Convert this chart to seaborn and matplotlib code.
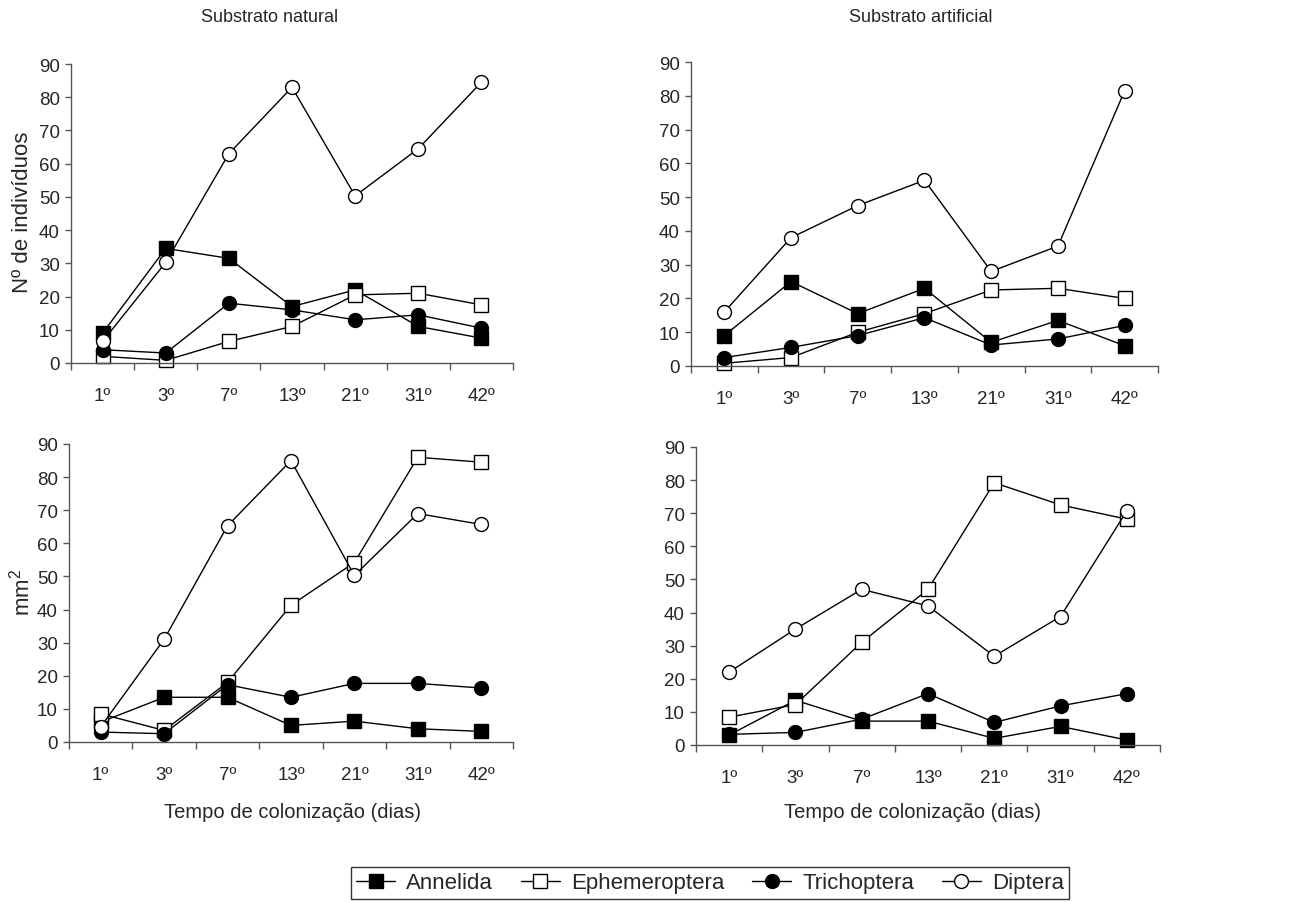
import numpy as np
import pandas as pd
import matplotlib
matplotlib.use("Agg")
import matplotlib.pyplot as plt
import seaborn as sns
from matplotlib.ticker import FixedLocator, NullFormatter

sns.set_style("white")
plt.rcParams['font.family'] = ['Liberation Sans', 'DejaVu Sans']
plt.rcParams['mathtext.fontset'] = 'custom'
plt.rcParams['mathtext.rm'] = 'Liberation Sans'

# dados
dias = ["1º", "3º", "7º", "13º", "21º", "31º", "42º"]
grupos = ["Annelida", "Ephemeroptera", "Trichoptera", "Diptera"]

# Nº de indivíduos - substrato natural
nat_ind_annelida = [9, 34.5, 31.5, 17, 22, 11, 7.5]
nat_ind_ephem = [2, 0.8, 6.5, 11, 20.5, 21, 17.5]
nat_ind_trich = [4, 3, 18, 16, 13, 14.5, 10.5]
nat_ind_diptera = [6.5, 30.3, 63, 83, 50.3, 64.5, 84.5]

# Nº de indivíduos - substrato artificial
art_ind_annelida = [9, 25, 15.5, 23, 7, 13.5, 6]
art_ind_ephem = [0.8, 2.5, 10, 15.5, 22.5, 23, 20]
art_ind_trich = [2.5, 5.5, 9, 14.3, 6.2, 8, 12]
art_ind_diptera = [16, 38, 47.5, 55, 28, 35.5, 81.5]

# mm2 - substrato natural
nat_mm_annelida = [6, 13.5, 13.5, 5, 6.3, 4, 3.2]
nat_mm_ephem = [8.5, 3.5, 18, 41.3, 54.2, 86, 84.5]
nat_mm_trich = [3, 2.5, 17.3, 13.5, 17.7, 17.7, 16.3]
nat_mm_diptera = [4.6, 31, 65.3, 85, 50.3, 69, 65.7]

# mm2 - substrato artificial
art_mm_annelida = [3, 13.5, 7.2, 7.2, 2, 5.6, 1.5]
art_mm_ephem = [8.4, 12.2, 31, 47, 79.2, 72.5, 68.2]
art_mm_trich = [3.2, 3.8, 7.8, 15.5, 6.8, 11.8, 15.5]
art_mm_diptera = [22, 35, 47, 42, 26.8, 38.8, 70.7]

estilos = {
    "Annelida": dict(marker="s", markerfacecolor="black"),
    "Ephemeroptera": dict(marker="s", markerfacecolor="white"),
    "Trichoptera": dict(marker="o", markerfacecolor="black"),
    "Diptera": dict(marker="o", markerfacecolor="white"),
}

paineis = [
    ([0.0550, 0.5969, 0.3420, 0.3311], [nat_ind_annelida, nat_ind_ephem, nat_ind_trich, nat_ind_diptera]),
    ([0.5348, 0.5936, 0.3615, 0.3366], [art_ind_annelida, art_ind_ephem, art_ind_trich, art_ind_diptera]),
    ([0.0534, 0.1772, 0.3436, 0.3300], [nat_mm_annelida, nat_mm_ephem, nat_mm_trich, nat_mm_diptera]),
    ([0.5387, 0.1739, 0.3591, 0.3300], [art_mm_annelida, art_mm_ephem, art_mm_trich, art_mm_diptera]),
]

fig = plt.figure(figsize=(12.92, 9.03), dpi=100)
x = np.arange(len(dias))

for pos, series in paineis:
    ax = fig.add_axes(pos)
    for nome, vals in zip(grupos, series):
        df = pd.DataFrame({"dia": x, "valor": vals})
        sns.lineplot(data=df, x="dia", y="valor", ax=ax, color="black", lw=1,
                     markersize=10, markeredgecolor="black", markeredgewidth=1,
                     clip_on=False, label=nome, **estilos[nome])
    ax.set_xlim(-0.5, 6.5)
    ax.set_ylim(0, 90)
    ax.set_yticks(range(0, 91, 10))
    ax.set_xticks(x)
    ax.set_xticklabels(dias)
    ax.xaxis.set_minor_locator(FixedLocator(np.arange(-0.5, 7, 1)))
    ax.xaxis.set_minor_formatter(NullFormatter())
    ax.tick_params(axis="x", which="major", length=0, pad=17, labelsize=13.5)
    ax.tick_params(axis="x", which="minor", length=5, width=1, color="#555555", direction="out", bottom=True)
    ax.tick_params(axis="y", length=4, width=1, color="#555555", direction="out", left=True, pad=4, labelsize=13.5)
    for s in ["top", "right"]:
        ax.spines[s].set_visible(False)
    for s in ["left", "bottom"]:
        ax.spines[s].set_color("#555555")
        ax.spines[s].set_linewidth(1)
    ax.set_xlabel("")
    ax.set_ylabel("")
    ax.get_legend().remove()
    handles, labels = ax.get_legend_handles_labels()

fig.text(270 / 1292, 1 - 17 / 903, "Substrato natural", ha="center", va="center", fontsize=13)
fig.text(921 / 1292, 1 - 17 / 903, "Substrato artificial", ha="center", va="center", fontsize=13)
fig.text(23 / 1292, 1 - 212 / 903, "Nº de indivíduos", rotation=90, ha="center", va="center", fontsize=16)
fig.text(22 / 1292, 1 - 592 / 903, "mm$^{2}$", rotation=90, ha="center", va="center", fontsize=16)
fig.text(292 / 1292, 1 - 812 / 903, "Tempo de colonização (dias)", ha="center", va="center", fontsize=14.5)
fig.text(912 / 1292, 1 - 812 / 903, "Tempo de colonização (dias)", ha="center", va="center", fontsize=14.5)

leg = fig.legend(handles, labels, loc="center", bbox_to_anchor=(710 / 1292, 1 - 884 / 903), ncol=4,
                 frameon=True, fancybox=False, edgecolor="black", fontsize=16,
                 handlelength=1.75, handletextpad=0.5, columnspacing=1.25, borderpad=0.25)
leg.get_frame().set_linewidth(1)

fig.savefig("out.png", dpi=100)
